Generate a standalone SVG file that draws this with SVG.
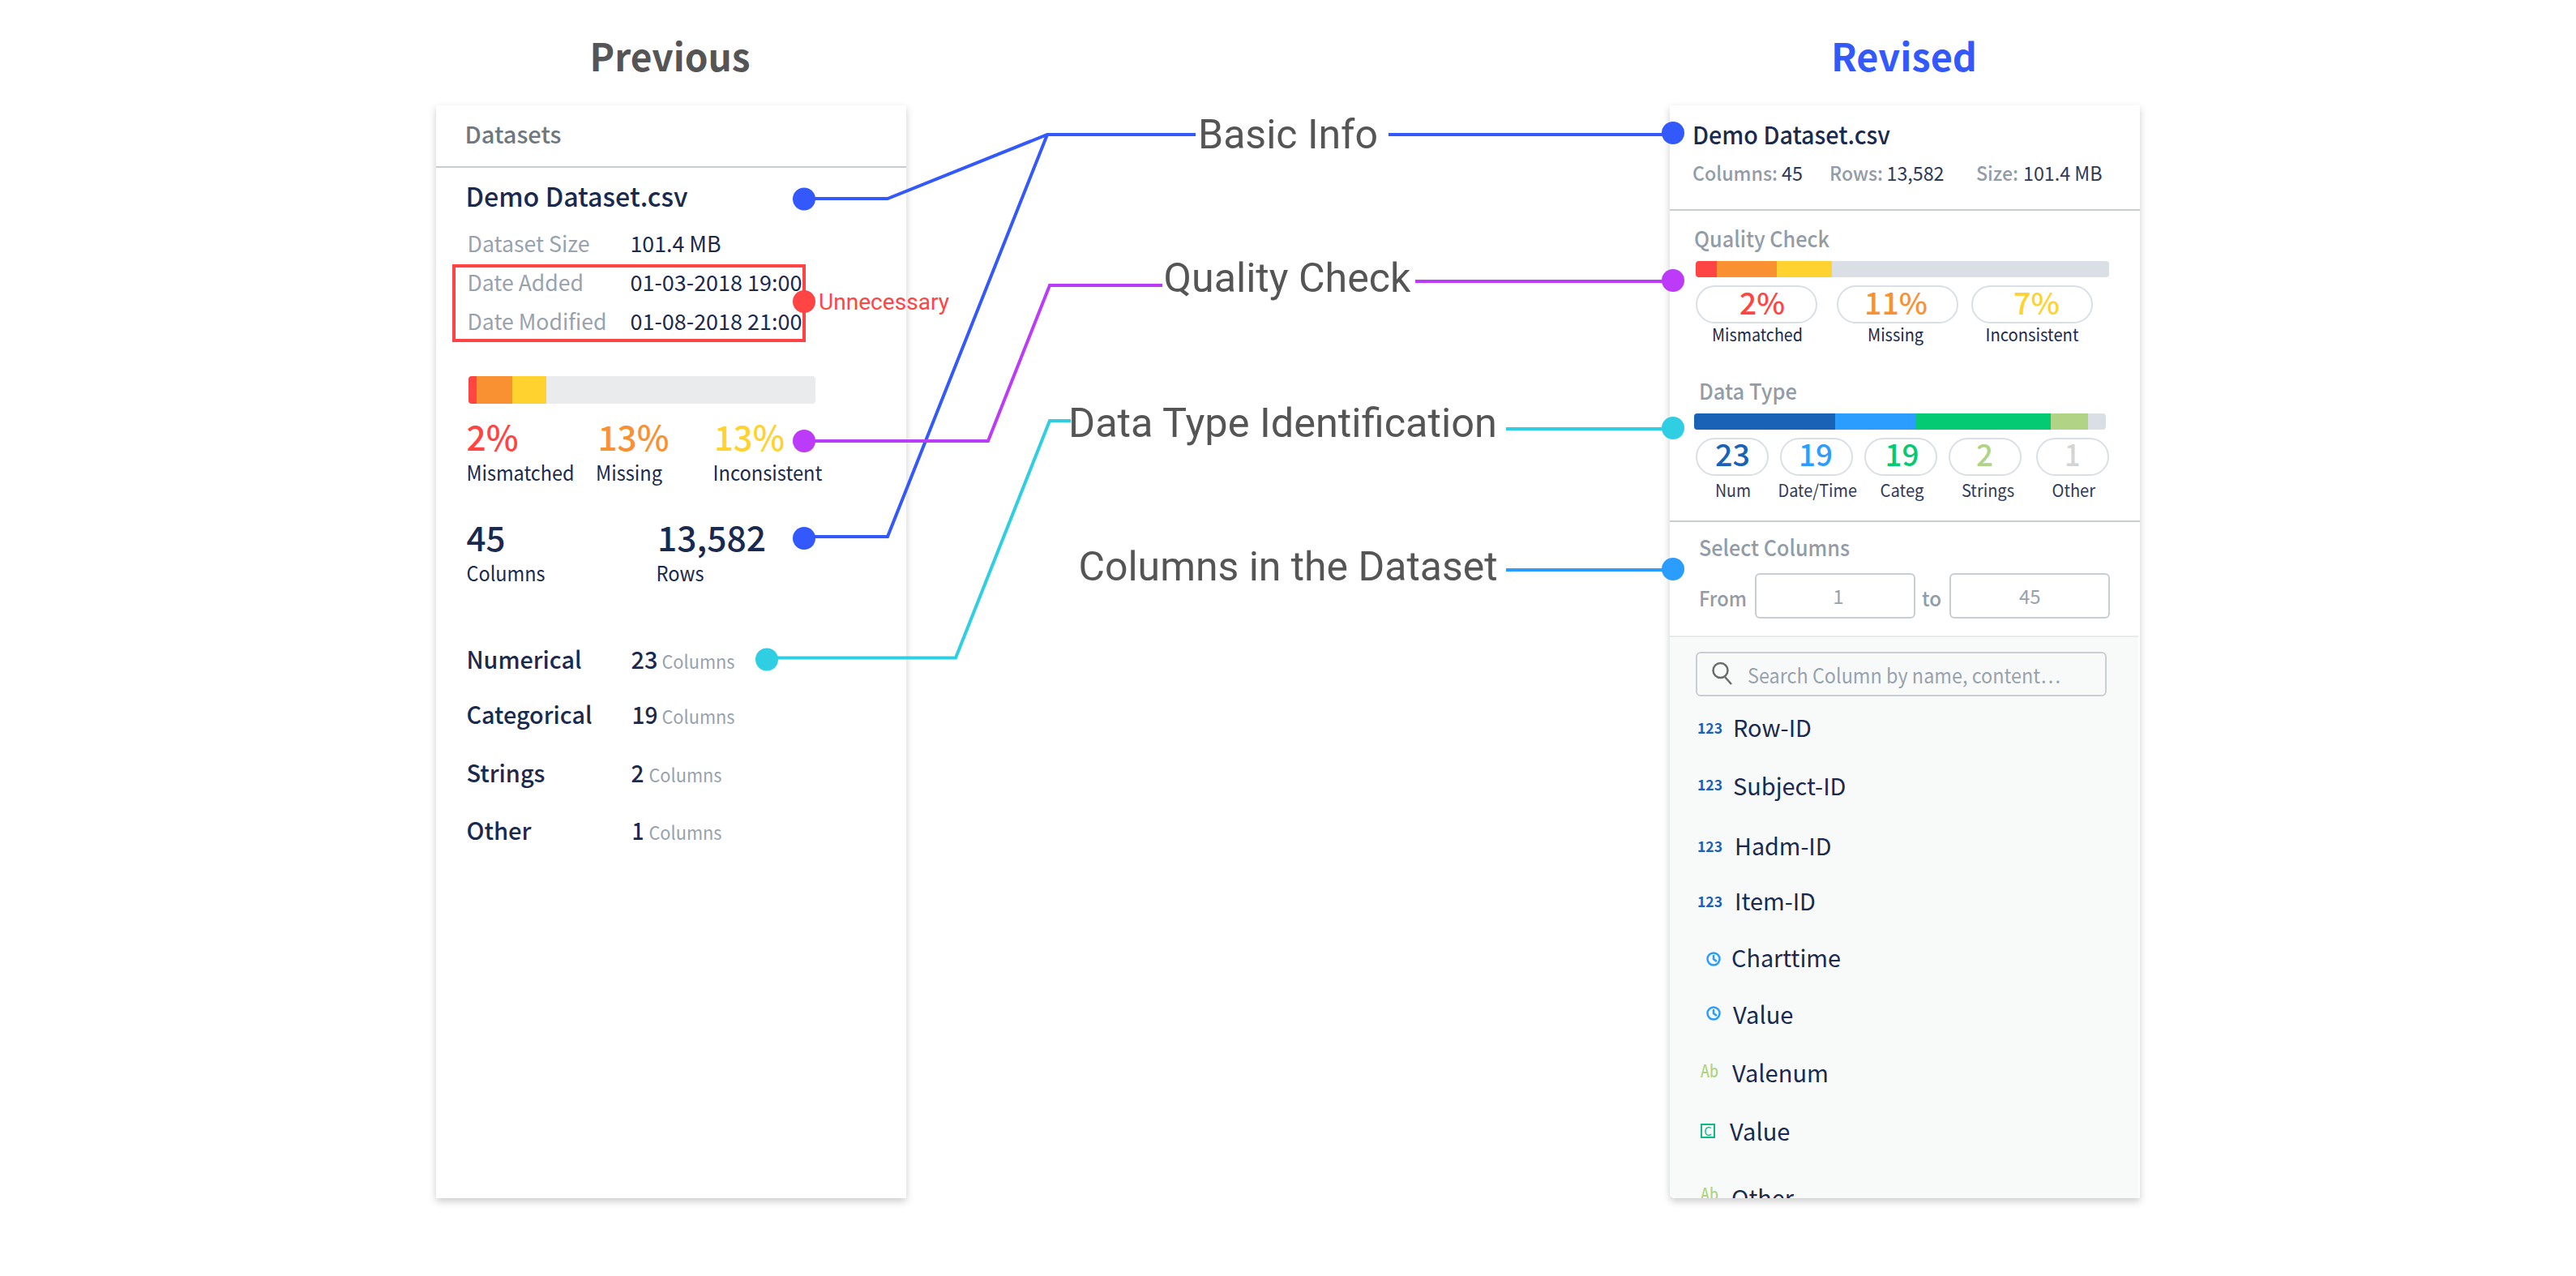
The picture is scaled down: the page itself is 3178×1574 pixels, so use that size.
<svg xmlns="http://www.w3.org/2000/svg" width="3178" height="1574" viewBox="0 0 3178 1574">
<defs>
<filter id="sh" x="-5%" y="-5%" width="110%" height="110%"><feDropShadow dx="0" dy="4" stdDeviation="5" flood-color="#000" flood-opacity="0.2"/></filter>
<clipPath id="clipR"><path d="M2060 130H2640V1478H2066a6 6 0 0 1-6-6z"/></clipPath>
</defs>
<style>
text{font-family:"Noto Sans CJK SC","Noto Sans",sans-serif;fill:#1a2a4e;font-size:25px}
.m{font-weight:500}
.b{font-weight:700}
.g{fill:#98a2ae}
.gm{fill:#929ca8;font-weight:500}
.lab{font-family:Roboto,sans-serif;font-size:50px;fill:#555}
.conn{fill:none;stroke-width:4}
.div{stroke:#c8cdd2;stroke-width:2}
.pill{fill:#fff;stroke:#dadfe6;stroke-width:2}
.inp{fill:#fff;stroke:#c9ced4;stroke-width:2}
.it{font-size:29px}
.num{font-size:18px;font-weight:700;fill:#1a62b6}
.ab{font-size:21px;font-weight:500;fill:#b0d385}
.clk{fill:none;stroke:#2a9dff;stroke-width:2.500}
</style>
<rect width="3178" height="1574" fill="#fff"/>
<text id="title-previous" x="727.500" y="88" textLength="198" lengthAdjust="spacingAndGlyphs" class="b" style="font-size:47px;fill:#555">Previous</text>
<text id="title-revised" x="2259" y="88" textLength="180" lengthAdjust="spacingAndGlyphs" class="b" style="font-size:47px;fill:#3358fc">Revised</text>

<g id="panel-previous">
<rect x="538" y="130" width="580" height="1348" fill="#fff" filter="url(#sh)"/>
<line x1="538" y1="206" x2="1118" y2="206" class="div"/>
<rect x="560" y="328" width="432" height="92" fill="none" stroke="#ff4444" stroke-width="4"/>
<rect x="578" y="464" width="428" height="34" rx="4" fill="#e9ebed"/>
<path d="M582 464h6v34h-6a4 4 0 0 1-4-4v-26a4 4 0 0 1 4-4z" fill="#ff4444"/>
<rect x="588" y="464" width="44" height="34" fill="#f99132"/>
<rect x="632" y="464" width="42" height="34" fill="#ffd230"/>
<g transform="translate(-1.500 0)">
<text x="575" y="177" textLength="119" lengthAdjust="spacingAndGlyphs" class="m" style="font-size:28px;fill:#6f777e">Datasets</text>
<text x="576" y="254.500" textLength="274" lengthAdjust="spacingAndGlyphs" class="m" style="font-size:33px">Demo Dataset.csv</text>
<text x="578" y="311" textLength="151" lengthAdjust="spacingAndGlyphs" class="g" style="font-size:27px">Dataset Size</text>
<text x="779" y="311" textLength="112" lengthAdjust="spacingAndGlyphs" style="font-size:27px">101.4 MB</text>
<text x="578" y="358.500" textLength="143.500" lengthAdjust="spacingAndGlyphs" class="g" style="font-size:27px">Date Added</text>
<text x="779" y="358.500" textLength="212" lengthAdjust="spacingAndGlyphs" style="font-size:27px">01-03-2018 19:00</text>
<text x="578" y="406.500" textLength="172" lengthAdjust="spacingAndGlyphs" class="g" style="font-size:27px">Date Modified</text>
<text x="779" y="406.500" textLength="212" lengthAdjust="spacingAndGlyphs" style="font-size:27px">01-08-2018 21:00</text>
<text x="577" y="556" textLength="64" lengthAdjust="spacingAndGlyphs" class="m" style="font-size:42px;fill:#ff4444">2%</text>
<text x="739" y="556" textLength="88" lengthAdjust="spacingAndGlyphs" class="m" style="font-size:42px;fill:#f99132">13%</text>
<text x="882.500" y="556" textLength="87" lengthAdjust="spacingAndGlyphs" class="m" style="font-size:42px;fill:#ffd230">13%</text>
<text x="577" y="593" textLength="133" lengthAdjust="spacingAndGlyphs">Mismatched</text>
<text x="736.500" y="593" textLength="82" lengthAdjust="spacingAndGlyphs">Missing</text>
<text x="881" y="593" textLength="135" lengthAdjust="spacingAndGlyphs">Inconsistent</text>
<text x="577" y="680" textLength="48" lengthAdjust="spacingAndGlyphs" class="m" style="font-size:42px">45</text>
<text x="812.500" y="680" textLength="134" lengthAdjust="spacingAndGlyphs" class="m" style="font-size:42px">13,582</text>
<text x="577" y="717" textLength="97" lengthAdjust="spacingAndGlyphs">Columns</text>
<text x="811" y="717" textLength="59" lengthAdjust="spacingAndGlyphs">Rows</text>
<text x="577" y="824.500" textLength="142" lengthAdjust="spacingAndGlyphs" class="m" style="font-size:29px">Numerical</text>
<text x="780" y="824.500" textLength="33" lengthAdjust="spacingAndGlyphs" class="m" style="font-size:29px">23</text>
<text x="818" y="825" textLength="90" lengthAdjust="spacingAndGlyphs" class="g" style="font-size:23px">Columns</text>
<text x="577" y="892.500" textLength="155" lengthAdjust="spacingAndGlyphs" class="m" style="font-size:29px">Categorical</text>
<text x="781" y="892.500" textLength="32" lengthAdjust="spacingAndGlyphs" class="m" style="font-size:29px">19</text>
<text x="818" y="893" textLength="90" lengthAdjust="spacingAndGlyphs" class="g" style="font-size:23px">Columns</text>
<text x="577" y="964.500" textLength="97" lengthAdjust="spacingAndGlyphs" class="m" style="font-size:29px">Strings</text>
<text x="780" y="964.500" textLength="16" lengthAdjust="spacingAndGlyphs" class="m" style="font-size:29px">2</text>
<text x="802" y="965" textLength="90" lengthAdjust="spacingAndGlyphs" class="g" style="font-size:23px">Columns</text>
<text x="577" y="1035.500" textLength="80" lengthAdjust="spacingAndGlyphs" class="m" style="font-size:29px">Other</text>
<text x="781" y="1035.500" textLength="15" lengthAdjust="spacingAndGlyphs" class="m" style="font-size:29px">1</text>
<text x="802" y="1036" textLength="90" lengthAdjust="spacingAndGlyphs" class="g" style="font-size:23px">Columns</text>
</g>
</g>

<g id="panel-revised">
<path d="M2060 130H2640V1478H2066a6 6 0 0 1-6-6z" fill="#fff" filter="url(#sh)"/>
<g clip-path="url(#clipR)">
<rect x="2060" y="786" width="578" height="692" fill="#f8fafa"/>
</g>
<line x1="2060" y1="259" x2="2640" y2="259" class="div"/>
<rect x="2092" y="322" width="510" height="20" rx="4" fill="#dadfe6"/>
<path d="M2096 322h22v20h-22a4 4 0 0 1-4-4v-12a4 4 0 0 1 4-4z" fill="#ff4444"/>
<rect x="2118" y="322" width="74" height="20" fill="#f99132"/>
<rect x="2192" y="322" width="68" height="20" fill="#ffd230"/>
<rect x="2093" y="353" width="148" height="45" rx="22.500" class="pill"/>
<rect x="2267" y="353" width="148" height="45" rx="22.500" class="pill"/>
<rect x="2433" y="353" width="148" height="45" rx="22.500" class="pill"/>
<rect x="2090" y="510" width="508" height="20" rx="4" fill="#dadfe6"/>
<path d="M2094 510h170v20h-170a4 4 0 0 1-4-4v-12a4 4 0 0 1 4-4z" fill="#1a62b6"/>
<rect x="2264" y="510" width="100" height="20" fill="#2a9dff"/>
<rect x="2364" y="510" width="166" height="20" fill="#05ca74"/>
<rect x="2530" y="510" width="46" height="20" fill="#b0d385"/>
<rect x="2093" y="541" width="88" height="45" rx="22.500" class="pill"/>
<rect x="2197" y="541" width="88" height="45" rx="22.500" class="pill"/>
<rect x="2301" y="541" width="88" height="45" rx="22.500" class="pill"/>
<rect x="2405" y="541" width="88" height="45" rx="22.500" class="pill"/>
<rect x="2513" y="541" width="88" height="45" rx="22.500" class="pill"/>
<line x1="2060" y1="643" x2="2640" y2="643" class="div"/>
<rect x="2166" y="708" width="196" height="54" rx="5" class="inp"/>
<rect x="2406" y="708" width="196" height="54" rx="5" class="inp"/>
<line x1="2060" y1="785" x2="2638" y2="785" stroke="#e8eaec" stroke-width="2"/>
<rect x="2093" y="805" width="505" height="53" rx="5" fill="#f8fafa" stroke="#c9ced4" stroke-width="2"/>
<circle cx="2122.500" cy="827" r="9" fill="none" stroke="#6b6b6b" stroke-width="2.500"/>
<line x1="2128" y1="835" x2="2136" y2="844" stroke="#6b6b6b" stroke-width="2.500"/>
<g transform="translate(-1 0)">
<text x="2089" y="178" textLength="244" lengthAdjust="spacingAndGlyphs" class="m" style="font-size:30px">Demo Dataset.csv</text>
<text x="2089" y="222.500" textLength="105" lengthAdjust="spacingAndGlyphs" class="gm" style="font-size:24px">Columns:</text>
<text x="2199" y="222.500" textLength="26" lengthAdjust="spacingAndGlyphs" style="font-size:24px;fill:#2f3a57">45</text>
<text x="2258" y="222.500" textLength="66" lengthAdjust="spacingAndGlyphs" class="gm" style="font-size:24px">Rows:</text>
<text x="2328.500" y="222.500" textLength="71" lengthAdjust="spacingAndGlyphs" style="font-size:24px;fill:#2f3a57">13,582</text>
<text x="2439" y="222.500" textLength="52" lengthAdjust="spacingAndGlyphs" class="gm" style="font-size:24px">Size:</text>
<text x="2497" y="222.500" textLength="97.500" lengthAdjust="spacingAndGlyphs" style="font-size:24px;fill:#2f3a57">101.4 MB</text>
<text x="2091" y="304.500" textLength="167" lengthAdjust="spacingAndGlyphs" class="gm" style="font-size:27px">Quality Check</text>
<text x="2147" y="388" textLength="56" lengthAdjust="spacingAndGlyphs" class="m" style="font-size:37px;fill:#ff4444">2%</text>
<text x="2301" y="388" textLength="78" lengthAdjust="spacingAndGlyphs" class="m" style="font-size:37px;fill:#f99132">11%</text>
<text x="2485" y="388" textLength="57" lengthAdjust="spacingAndGlyphs" class="m" style="font-size:37px;fill:#ffd230">7%</text>
<text x="2113" y="420.500" textLength="112" lengthAdjust="spacingAndGlyphs" style="font-size:21px">Mismatched</text>
<text x="2305" y="420.500" textLength="69" lengthAdjust="spacingAndGlyphs" style="font-size:21px">Missing</text>
<text x="2450.500" y="420.500" textLength="115" lengthAdjust="spacingAndGlyphs" style="font-size:21px">Inconsistent</text>
<text x="2097" y="492.500" textLength="121" lengthAdjust="spacingAndGlyphs" class="gm" style="font-size:27px">Data Type</text>
<text x="2117" y="575" textLength="43" lengthAdjust="spacingAndGlyphs" class="m" style="font-size:37px;fill:#1a62b6">23</text>
<text x="2220" y="575" textLength="42" lengthAdjust="spacingAndGlyphs" class="m" style="font-size:37px;fill:#2a9dff">19</text>
<text x="2326.500" y="575" textLength="42" lengthAdjust="spacingAndGlyphs" class="m" style="font-size:37px;fill:#05ca74">19</text>
<text x="2439" y="575" textLength="21" lengthAdjust="spacingAndGlyphs" class="m" style="font-size:37px;fill:#b0d385">2</text>
<text x="2548" y="575" textLength="19.500" lengthAdjust="spacingAndGlyphs" class="m" style="font-size:37px;fill:#d4d4d4">1</text>
<text x="2117" y="612.500" textLength="44" lengthAdjust="spacingAndGlyphs" style="font-size:21px;fill:#2f3a57">Num</text>
<text x="2194.500" y="612.500" textLength="97.500" lengthAdjust="spacingAndGlyphs" style="font-size:21px;fill:#2f3a57">Date/Time</text>
<text x="2320.500" y="612.500" textLength="54" lengthAdjust="spacingAndGlyphs" style="font-size:21px;fill:#2f3a57">Categ</text>
<text x="2421" y="612.500" textLength="65" lengthAdjust="spacingAndGlyphs" style="font-size:21px;fill:#2f3a57">Strings</text>
<text x="2532.500" y="612.500" textLength="53.500" lengthAdjust="spacingAndGlyphs" style="font-size:21px;fill:#2f3a57">Other</text>
<text x="2097" y="685.500" textLength="186" lengthAdjust="spacingAndGlyphs" class="gm" style="font-size:27px">Select Columns</text>
<text x="2097" y="747.500" textLength="59" lengthAdjust="spacingAndGlyphs" class="gm" style="font-size:25px">From</text>
<text x="2269" y="744.500" text-anchor="middle" class="g" style="font-size:24px">1</text>
<text x="2372" y="747.500" textLength="24" lengthAdjust="spacingAndGlyphs" class="gm" style="font-size:25px">to</text>
<text x="2492" y="744.500" textLength="26.500" lengthAdjust="spacingAndGlyphs" class="g" style="font-size:24px">45</text>
<text x="2157" y="842.500" textLength="386" lengthAdjust="spacingAndGlyphs" class="g" style="font-size:25px">Search Column by name, content…</text>
</g>
<g clip-path="url(#clipR)">
<text x="2094" y="904.500" textLength="31" lengthAdjust="spacingAndGlyphs" class="num">123</text><text x="2138" y="909" textLength="97" lengthAdjust="spacingAndGlyphs" class="it">Row-ID</text>
<text x="2094" y="975" textLength="31" lengthAdjust="spacingAndGlyphs" class="num">123</text><text x="2138" y="981" textLength="139.500" lengthAdjust="spacingAndGlyphs" class="it">Subject-ID</text>
<text x="2094" y="1051" textLength="31" lengthAdjust="spacingAndGlyphs" class="num">123</text><text x="2140" y="1055" textLength="119.500" lengthAdjust="spacingAndGlyphs" class="it">Hadm-ID</text>
<text x="2094" y="1119" textLength="31" lengthAdjust="spacingAndGlyphs" class="num">123</text><text x="2140" y="1123" textLength="100" lengthAdjust="spacingAndGlyphs" class="it">Item-ID</text>
<circle cx="2114" cy="1183" r="7.500" class="clk"/><path d="M2114 1178v5l4 3" class="clk"/><text x="2136" y="1193" textLength="135" lengthAdjust="spacingAndGlyphs" class="it">Charttime</text>
<circle cx="2114" cy="1250" r="7.500" class="clk"/><path d="M2114 1245v5l4 3" class="clk"/><text x="2138" y="1262.500" textLength="74.500" lengthAdjust="spacingAndGlyphs" class="it">Value</text>
<text x="2098" y="1328.500" textLength="22" lengthAdjust="spacingAndGlyphs" class="ab">Ab</text><text x="2137" y="1335" textLength="119" lengthAdjust="spacingAndGlyphs" class="it">Valenum</text>
<rect x="2099" y="1387" width="16" height="16" fill="none" stroke="#10b981" stroke-width="2"/><text x="2107" y="1401" text-anchor="middle" style="font-size:15px;fill:#10b981">C</text><text x="2134" y="1406.500" textLength="74.500" lengthAdjust="spacingAndGlyphs" class="it">Value</text>
<text x="2098" y="1481" textLength="22" lengthAdjust="spacingAndGlyphs" class="ab">Ab</text><text x="2136" y="1489" textLength="77" lengthAdjust="spacingAndGlyphs" class="it">Other</text>
</g>
</g>

<g id="connectors">
<polyline class="conn" stroke="#3358fc" points="992,245 1095,245 1292,166 1475,166"/>
<polyline class="conn" stroke="#3358fc" points="992,662 1095,662 1292,166"/>
<polyline class="conn" stroke="#bb3bf8" points="992,544 1219,544 1295,352 1434,352"/>
<polyline class="conn" stroke="#30cee2" points="946,811.500 1179,811.500 1295,519 1321,519"/>
<line class="conn" stroke="#3358fc" x1="1713" y1="166" x2="2064" y2="166"/>
<line class="conn" stroke="#bb3bf8" x1="1746" y1="347" x2="2064" y2="347"/>
<line class="conn" stroke="#30cee2" x1="1858" y1="529" x2="2064" y2="529"/>
<line class="conn" stroke="#2a9dff" x1="1858" y1="703" x2="2064" y2="703"/>
</g>

<g id="dots">
<circle cx="992" cy="245.500" r="14" fill="#3358fc"/>
<circle cx="992" cy="372" r="14" fill="#ff4444"/>
<circle cx="992" cy="544" r="14" fill="#bb3bf8"/>
<circle cx="992" cy="664" r="14" fill="#3358fc"/>
<circle cx="946" cy="813.500" r="14" fill="#30cee2"/>
<circle cx="2064" cy="164" r="14" fill="#3358fc"/>
<circle cx="2064" cy="346" r="14" fill="#bb3bf8"/>
<circle cx="2064" cy="528" r="14" fill="#30cee2"/>
<circle cx="2064" cy="702" r="14" fill="#2a9dff"/>
</g>

<g id="label-unnecessary"><text x="1010" y="382" textLength="161" lengthAdjust="spacingAndGlyphs" style="font-family:Roboto,sans-serif;font-size:28px;fill:#ff4444">Unnecessary</text></g>
<g id="label-basic-info"><text x="1478" y="183" textLength="222" lengthAdjust="spacingAndGlyphs" class="lab">Basic Info</text></g>
<g id="label-quality-check"><text x="1435.500" y="360" textLength="305" lengthAdjust="spacingAndGlyphs" class="lab">Quality Check</text></g>
<g id="label-data-type"><text x="1318" y="539" textLength="529" lengthAdjust="spacingAndGlyphs" class="lab">Data Type Identification</text></g>
<g id="label-columns"><text x="1330.500" y="716" textLength="517" lengthAdjust="spacingAndGlyphs" class="lab">Columns in the Dataset</text></g>
</svg>
